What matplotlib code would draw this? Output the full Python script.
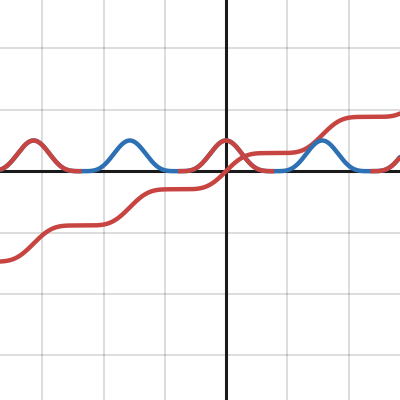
import numpy as np
import matplotlib
matplotlib.use("Agg")
import matplotlib.pyplot as plt

# values (1 grid square = 1 unit)
x_range = [-3.69, 2.84]
y_range = [-3.73, 2.79]
grid_ticks = [-3, -2, -1, 1, 2]
peak_spacing = 1.5708      # distance between bump peaks
bump_height = 0.5          # height of every bump
bump_power = 4             # sharpness of the bumps
step_height = 0.59         # rise of the staircase per bump
blue_parts = [(-2.356, -0.785), (0.785, 2.356)]   # x ranges where the bumps are blue

red = "#c74440"
blue = "#2d70b3"

x = np.linspace(x_range[0], x_range[1], 3000)
shape = np.cos(np.pi * x / peak_spacing) ** bump_power
bumps = bump_height * shape

# staircase = running area under the bump shape, one step per bump
area = np.concatenate([[0], np.cumsum((shape[1:] + shape[:-1]) / 2 * np.diff(x))])
area = area - np.interp(0, x, area)
one_bump = peak_spacing * 3 / 8
stairs = area / one_bump * step_height

is_blue = np.zeros_like(x, dtype=bool)
for a, b in blue_parts:
    is_blue |= (x >= a) & (x <= b)
red_bumps = np.where(is_blue, np.nan, bumps)

fig = plt.figure(figsize=(4, 4), dpi=100)
ax = fig.add_axes([0, 0, 1, 1])

for t in grid_ticks:
    ax.axvline(t, color="black", alpha=0.15, lw=1.3, zorder=0)
    ax.axhline(t, color="black", alpha=0.15, lw=1.3, zorder=0)
ax.axvline(0, color="#1a1a1a", lw=2.2, zorder=1)
ax.axhline(0, color="#1a1a1a", lw=2.2, zorder=1)

lw = 3.2
ax.plot(x, stairs, color=red, lw=lw, solid_capstyle="round", zorder=2)
ax.plot(x, bumps, color=blue, lw=lw, solid_capstyle="round", zorder=3)
ax.plot(x, red_bumps, color=red, lw=lw, solid_capstyle="butt", zorder=4)

ax.set_xlim(x_range)
ax.set_ylim(y_range)
ax.axis("off")

fig.savefig("out.png", dpi=100)
